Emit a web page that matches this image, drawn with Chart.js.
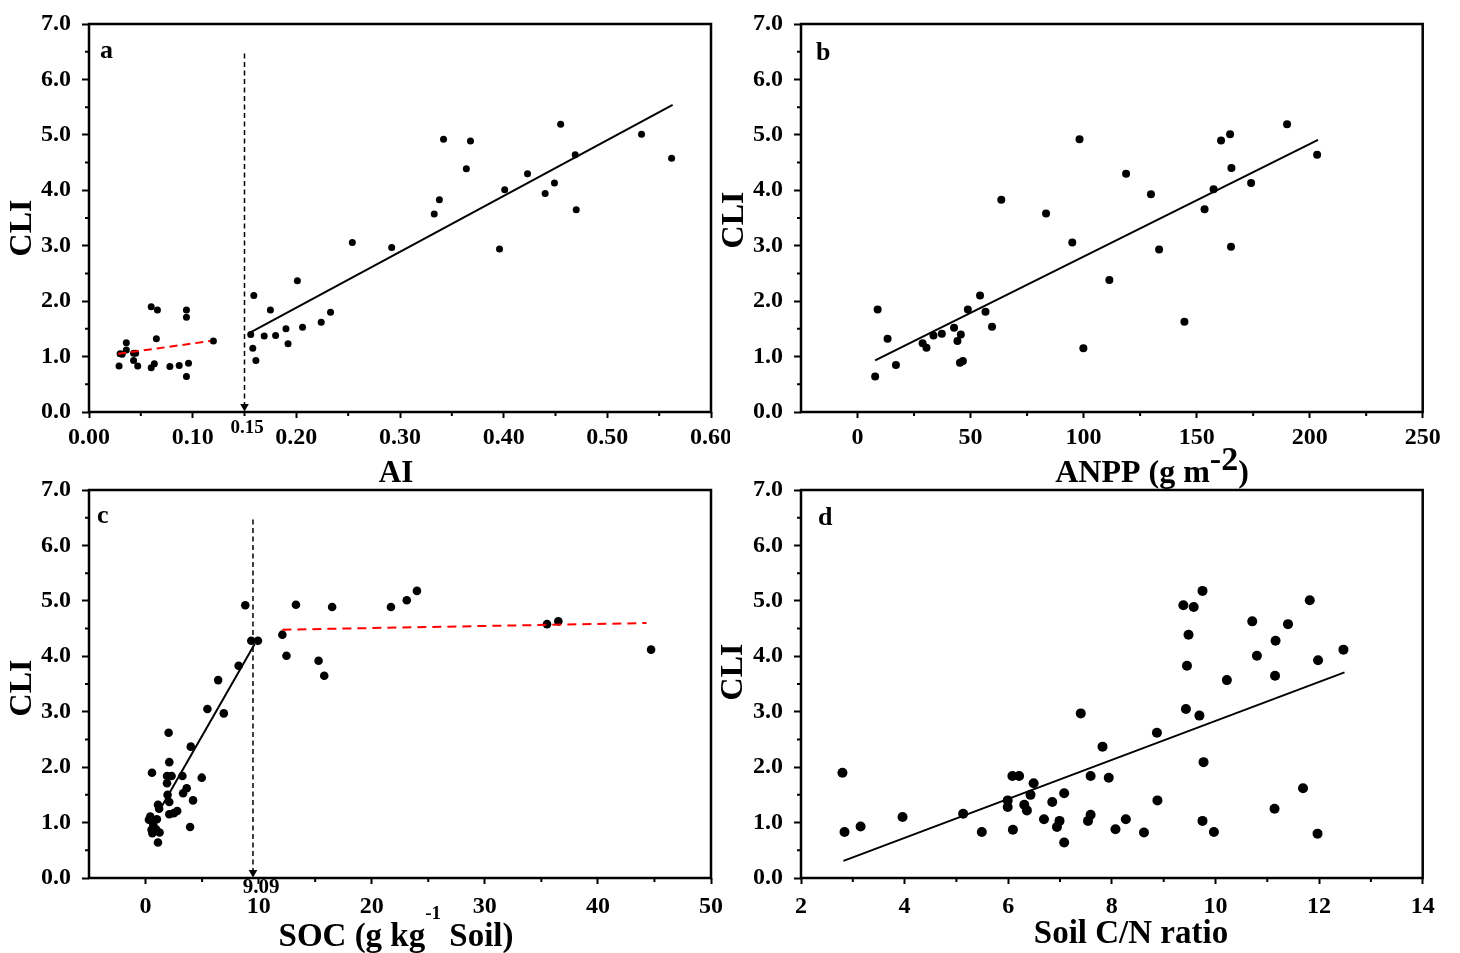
<!DOCTYPE html>
<html>
<head>
<meta charset="utf-8">
<script src="https://cdn.jsdelivr.net/npm/chart.js@4.4.1/dist/chart.umd.min.js"></script>
<style>
  html, body { margin: 0; padding: 0; background: #fff; }
  #wrap { position: relative; width: 1460px; height: 953px; overflow: hidden; }
  canvas { position: absolute; }
</style>
</head>
<body>
<div id="wrap">
  <canvas id="chartA" width="730" height="500" style="left:0;top:0"></canvas>
  <canvas id="chartB" width="760" height="500" style="left:700px;top:0"></canvas>
  <canvas id="chartC" width="730" height="473" style="left:0;top:480px"></canvas>
  <canvas id="chartD" width="760" height="473" style="left:700px;top:480px"></canvas>
</div>
<script>
// ---- panel a: CLI vs AI ----
const aiValues = [0.029, 0.030, 0.032, 0.036, 0.036, 0.043, 0.045, 0.043, 0.047, 0.060, 0.066, 0.065, 0.060, 0.063,
  0.078, 0.087, 0.094, 0.094, 0.096, 0.094, 0.120,
  0.156, 0.159, 0.158, 0.161, 0.169, 0.175, 0.180, 0.190, 0.192, 0.201, 0.206, 0.224, 0.233, 0.254, 0.292,
  0.333, 0.338, 0.342, 0.364, 0.368, 0.396, 0.401, 0.423, 0.440, 0.449, 0.455, 0.469, 0.470, 0.533, 0.562];
const cliByAI = [0.83, 1.05, 1.04, 1.25, 1.12, 1.06, 1.06, 0.93, 0.83, 1.90, 1.84, 1.32, 0.80, 0.87,
  0.82, 0.84, 1.84, 1.71, 0.88, 0.64, 1.28,
  1.40, 2.10, 1.15, 0.93, 1.37, 1.84, 1.38, 1.50, 1.23, 2.37, 1.53, 1.62, 1.80, 3.06, 2.97,
  3.57, 3.83, 4.92, 4.39, 4.89, 2.94, 4.01, 4.30, 3.94, 4.13, 5.19, 4.64, 3.65, 5.01, 4.58];
const aiLowFitX = [0.028, 0.117];
const aiLowFitY = [1.05, 1.28];
const aiHighFitX = [0.154, 0.563];
const aiHighFitY = [1.42, 5.54];
const aiBreak = 0.15;

// ---- panel b: CLI vs ANPP ----
const anppValues = [7.8, 8.9, 13.3, 17.0, 28.8, 30.5, 33.6, 37.3, 42.7, 44.2, 45.7, 45.3, 46.6, 48.8, 54.2, 56.6,
  59.5, 63.6, 83.4, 95.0, 98.2, 99.9, 111.4, 118.8, 129.8, 133.4, 144.6, 153.5, 157.5, 160.8, 164.8, 165.4,
  165.2, 174.1, 190.0, 203.3];
const cliByANPP = [0.64, 1.85, 1.32, 0.85, 1.24, 1.16, 1.38, 1.41, 1.52, 1.28, 1.40, 0.89, 0.92, 1.85, 2.10, 1.81,
  1.54, 3.83, 3.58, 3.06, 4.92, 1.15, 2.38, 4.30, 3.93, 2.93, 1.63, 3.66, 4.02, 4.90, 5.01, 4.40,
  2.98, 4.13, 5.19, 4.64];
const anppFitX = [7.8, 203.7];
const anppFitY = [0.93, 4.91];

// ---- panel c: CLI vs SOC ----
const socValues = [8.82, 9.35, 9.94, 12.1, 12.46, 13.3, 15.3, 15.8, 16.5, 21.7, 23.1, 24.0, 35.5, 36.5, 44.7,
  8.23, 6.42, 5.47, 6.92, 2.04, 4.0, 2.10, 0.57, 1.9, 2.3, 3.26, 4.97, 1.9, 3.64, 3.32, 1.95, 4.2, 2.1,
  1.1, 1.2, 2.1, 2.5, 2.8, 0.42, 0.3, 1.0, 0.68, 0.53, 0.92, 1.24, 0.6, 3.94, 1.1];
const cliBySOC = [4.92, 4.28, 4.28, 4.39, 4.01, 4.93, 3.92, 3.65, 4.89, 4.89, 5.01, 5.18, 4.58, 4.63, 4.12,
  3.83, 3.57, 3.05, 2.97, 2.62, 2.37, 2.09, 1.90, 1.84, 1.84, 1.84, 1.81, 1.71, 1.62, 1.53, 1.50, 1.40, 1.37,
  1.32, 1.25, 1.15, 1.17, 1.21, 1.11, 1.05, 1.06, 0.96, 0.87, 0.88, 0.82, 0.81, 0.92, 0.64];
const socLowFitX = [1.2, 9.65];
const socLowFitY = [1.21, 4.22];
const socHighFitX = [12.1, 44.3];
const socHighFitY = [4.48, 4.60];
const socBreak = 9.5;

// ---- panel d: CLI vs soil C/N ----
const cnValues = [2.80, 2.84, 3.15, 3.96, 5.13, 5.49, 5.99, 5.99, 6.08, 6.21, 6.09, 6.31, 6.36, 6.43, 6.49,
  6.69, 6.85, 6.99, 6.94, 7.08, 7.08, 7.40, 7.59, 7.59, 7.54, 7.82, 7.94, 8.07, 8.27, 8.62, 8.87, 8.88,
  9.38, 9.58, 9.75, 9.48, 9.45, 9.43, 9.69, 9.77, 9.75, 9.97, 10.22, 10.71, 10.80, 11.16, 11.15, 11.14,
  11.40, 11.69, 11.82, 11.98, 11.97, 12.47];
const cliByCN = [1.90, 0.83, 0.93, 1.10, 1.16, 0.83, 1.40, 1.28, 1.84, 1.84, 0.87, 1.32, 1.22, 1.50, 1.71,
  1.06, 1.37, 1.03, 0.92, 1.53, 0.64, 2.97, 1.84, 1.14, 1.03, 2.37, 1.81, 0.88, 1.06, 0.82, 2.62, 1.40,
  4.92, 4.89, 5.18, 4.39, 3.83, 3.05, 2.93, 2.09, 1.03, 0.83, 3.57, 4.63, 4.01, 4.28, 3.65, 1.25,
  4.58, 1.62, 5.01, 3.93, 0.80, 4.12];
const cnFitX = [2.82, 12.49];
const cnFitY = [0.31, 3.71];

// ---- ticks ----
const cliTicks = [0, 1, 2, 3, 4, 5, 6, 7];
const cliMinor = [0.5, 1.5, 2.5, 3.5, 4.5, 5.5, 6.5];
const aiTicks = [0, 0.1, 0.2, 0.3, 0.4, 0.5, 0.6];
const aiMinor = [0.05, 0.15, 0.25, 0.35, 0.45, 0.55];
const anppTicks = [0, 50, 100, 150, 200, 250];
const anppMinor = [25, 75, 125, 175, 225];
const socTicks = [0, 10, 20, 30, 40, 50];
const socMinor = [5, 15, 25, 35, 45];
const cnTicks = [2, 4, 6, 8, 10, 12, 14];
const cnMinor = [3, 5, 7, 9, 11, 13];

const FONT = '"Liberation Serif", "Times New Roman", serif';
Chart.defaults.font.family = FONT;
Chart.defaults.font.weight = 'bold';
Chart.defaults.color = '#000';

function toPoints(xs, ys) {
  return xs.map((x, i) => ({ x: x, y: ys[i] }));
}

// draw a title made of pieces (some raised as superscripts), centred on cx
function drawPieces(ctx, pieces, cx, baseline) {
  let total = 0;
  pieces.forEach(p => {
    ctx.font = `bold ${p.size}px ${FONT}`;
    p.w = ctx.measureText(p.t).width;
    total += p.w;
  });
  let x = cx - total / 2;
  ctx.textAlign = 'left';
  ctx.textBaseline = 'alphabetic';
  pieces.forEach(p => {
    ctx.font = `bold ${p.size}px ${FONT}`;
    ctx.fillText(p.t, x, baseline + (p.dy || 0));
    x += p.w;
  });
}

// frame, minor ticks, panel letter, axis titles and small notes
const panelDeco = {
  id: 'panelDeco',
  afterDraw(chart, args, o) {
    const { ctx, chartArea: a } = chart;
    const xs = chart.scales.x, ys = chart.scales.y;
    ctx.save();
    ctx.strokeStyle = '#000';
    ctx.fillStyle = '#000';

    ctx.lineWidth = 2;
    ctx.beginPath();
    o.minorX.forEach(v => {
      const px = xs.getPixelForValue(v);
      ctx.moveTo(px, a.bottom);
      ctx.lineTo(px, a.bottom + 4);
    });
    o.minorY.forEach(v => {
      const py = ys.getPixelForValue(v);
      ctx.moveTo(a.left, py);
      ctx.lineTo(a.left - 4, py);
    });
    ctx.stroke();

    ctx.lineWidth = 2.5;
    ctx.strokeRect(a.left, a.top, a.right - a.left, a.bottom - a.top);

    ctx.font = `bold 26px ${FONT}`;
    ctx.textAlign = 'left';
    ctx.textBaseline = 'alphabetic';
    ctx.fillText(o.letter, a.left + o.letterPos[0], a.top + o.letterPos[1]);

    ctx.save();
    ctx.translate(o.yTitlePos[0], o.yTitlePos[1]);
    ctx.rotate(-Math.PI / 2);
    ctx.font = `bold 32px ${FONT}`;
    ctx.textAlign = 'center';
    ctx.textBaseline = 'middle';
    ctx.fillText('CLI', 0, 0);
    ctx.restore();

    drawPieces(ctx, o.xTitle, o.xTitlePos[0], o.xTitlePos[1]);

    if (o.note) {
      ctx.font = `bold ${o.note.size}px ${FONT}`;
      ctx.textAlign = 'center';
      ctx.fillText(o.note.text, o.note.x, o.note.y);
    }
    ctx.restore();
  }
};

function makePanel(id, p) {
  return new Chart(document.getElementById(id), {
    type: 'scatter',
    data: { datasets: p.datasets },
    plugins: [panelDeco],
    options: {
      responsive: false,
      animation: false,
      layout: { padding: { left: 0, top: p.padTop, right: p.padRight, bottom: 0 } },
      plugins: {
        legend: { display: false },
        tooltip: { enabled: false },
        panelDeco: p.deco
      },
      scales: {
        x: {
          type: 'linear',
          min: p.xMin,
          max: p.xMax,
          afterBuildTicks: s => { s.ticks = p.xTicks.map(v => ({ value: v })); },
          afterFit: s => { s.height = p.xHeight; s.paddingLeft = 0; s.paddingRight = 0; },
          grid: { drawOnChartArea: false, drawTicks: true, tickLength: 6, tickWidth: 2, tickColor: '#000' },
          border: { display: false },
          ticks: {
            padding: p.xTickPad,
            maxRotation: 0,
            autoSkip: false,
            font: { size: 24, weight: 'bold' },
            color: '#000',
            callback: v => p.xFormat(v)
          }
        },
        y: {
          type: 'linear',
          min: 0,
          max: 7,
          afterBuildTicks: s => { s.ticks = cliTicks.map(v => ({ value: v })); },
          afterFit: s => { s.width = p.yWidth; s.paddingTop = 0; s.paddingBottom = 0; },
          grid: { drawOnChartArea: false, drawTicks: true, tickLength: 7, tickWidth: 2, tickColor: '#000' },
          border: { display: false },
          ticks: {
            padding: 11,
            autoSkip: false,
            font: { size: 24, weight: 'bold' },
            color: '#000',
            callback: v => v.toFixed(1)
          }
        }
      }
    }
  });
}

function dots(xs, ys, r) {
  return { data: toPoints(xs, ys), pointRadius: r, pointBackgroundColor: '#000', pointBorderWidth: 0, showLine: false, order: 2 };
}
function fitLine(xs, ys, color, dash) {
  return { data: toPoints(xs, ys), showLine: true, borderColor: color, borderWidth: 2, borderDash: dash,
    pointRadius: 0, fill: false, order: 1 };
}
function breakLine(xv) {
  return { data: [{ x: xv, y: 6.47 }, { x: xv, y: 0.12 }], showLine: true, borderColor: '#000', borderWidth: 1.5,
    borderDash: [5, 3.5], pointRadius: 0, order: 1 };
}
function breakArrow(xv) {
  return { data: [{ x: xv, y: 0.1 }], pointStyle: 'triangle', rotation: 180, pointRadius: 5,
    pointBackgroundColor: '#000', pointBorderWidth: 0, showLine: false, order: 0 };
}

makePanel('chartA', {
  datasets: [
    dots(aiValues, cliByAI, 3.5),
    fitLine(aiLowFitX, aiLowFitY, '#ff0000', [8, 5]),
    fitLine(aiHighFitX, aiHighFitY, '#000', []),
    breakLine(aiBreak),
    breakArrow(aiBreak)
  ],
  xMin: 0, xMax: 0.6, xTicks: aiTicks, xFormat: v => v.toFixed(2),
  padTop: 24, padRight: 19, yWidth: 89, xHeight: 88, xTickPad: 5,
  deco: {
    letter: 'a', letterPos: [11, 34], minorX: aiMinor, minorY: cliMinor,
    yTitlePos: [23, 228],
    xTitle: [{ t: 'AI', size: 31 }], xTitlePos: [396, 482],
    note: { text: '0.15', size: 19, x: 247, y: 433 }
  }
});

makePanel('chartB', {
  datasets: [
    dots(anppValues, cliByANPP, 4),
    fitLine(anppFitX, anppFitY, '#000', [])
  ],
  xMin: -25, xMax: 250, xTicks: anppTicks, xFormat: v => String(v),
  padTop: 24, padRight: 37.3, yWidth: 101, xHeight: 88, xTickPad: 5,
  deco: {
    letter: 'b', letterPos: [15, 36], minorX: anppMinor, minorY: cliMinor,
    yTitlePos: [35, 220],
    xTitle: [{ t: 'ANPP (g m', size: 32 }, { t: '-2', size: 34, dy: -12 }, { t: ')', size: 32 }],
    xTitlePos: [452, 482]
  }
});

makePanel('chartC', {
  datasets: [
    dots(socValues, cliBySOC, 4.3),
    fitLine(socLowFitX, socLowFitY, '#000', []),
    fitLine(socHighFitX, socHighFitY, '#ff0000', [9, 6]),
    breakLine(socBreak),
    breakArrow(socBreak)
  ],
  xMin: -5, xMax: 50, xTicks: socTicks, xFormat: v => String(v),
  padTop: 10, padRight: 19, yWidth: 89, xHeight: 75, xTickPad: 8,
  deco: {
    letter: 'c', letterPos: [8, 33], minorX: socMinor, minorY: cliMinor,
    yTitlePos: [23, 208],
    xTitle: [{ t: 'SOC (g kg', size: 33 }, { t: '-1', size: 19, dy: -27 }, { t: ' Soil)', size: 33 }],
    xTitlePos: [396, 466],
    note: { text: '9.09', size: 21, x: 261, y: 413 }
  }
});

makePanel('chartD', {
  datasets: [
    dots(cnValues, cliByCN, 5),
    fitLine(cnFitX, cnFitY, '#000', [])
  ],
  xMin: 2, xMax: 14, xTicks: cnTicks, xFormat: v => String(v),
  padTop: 10, padRight: 37.3, yWidth: 101, xHeight: 75, xTickPad: 8,
  deco: {
    letter: 'd', letterPos: [17, 35], minorX: cnMinor, minorY: cliMinor,
    yTitlePos: [34, 192],
    xTitle: [{ t: 'Soil C/N ratio', size: 33 }], xTitlePos: [431, 463]
  }
});
</script>
</body>
</html>
